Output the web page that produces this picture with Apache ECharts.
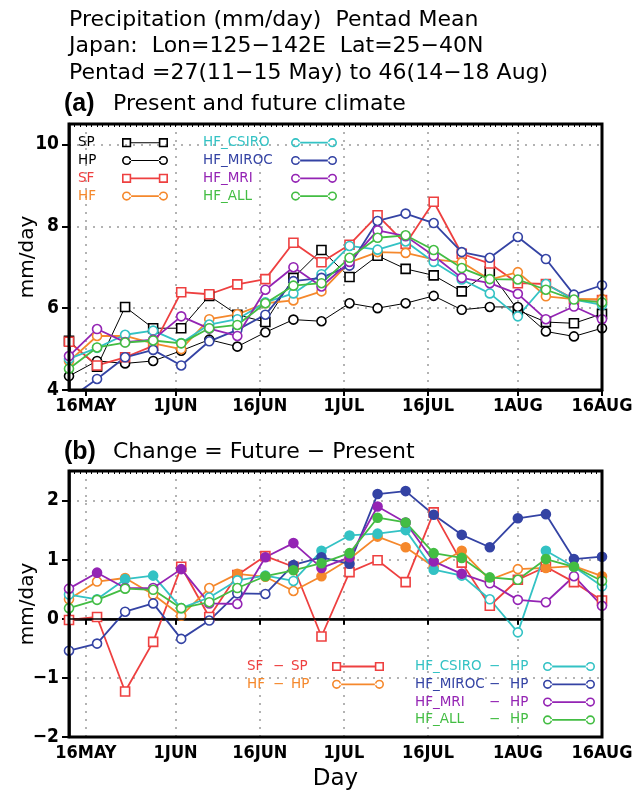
<!DOCTYPE html>
<html><head><meta charset="utf-8">
<script src="https://cdn.jsdelivr.net/npm/echarts@6/dist/echarts.min.js"></script>
<style>html,body{margin:0;padding:0;background:#fff}#c{width:635px;height:796px}</style>
</head><body><div id="c"></div>
<script>
// ---------------- data ----------------
const pentads = [27,28,29,30,31,32,33,34,35,36,37,38,39,40,41,42,43,44,45,46];
const tickDays = [136,152,167,182,197,213,228];           // day of year
const tickLabels = ['16MAY','1JUN','16JUN','1JUL','16JUL','1AUG','16AUG'];

// (a) present and future climate (mm/day)
const SP    = [5.20,4.57,6.03,5.51,5.51,6.30,5.84,5.66,6.74,7.42,6.76,7.28,6.96,6.80,6.41,6.90,5.95,5.66,5.63,5.86];
const HP    = [4.34,4.71,4.65,4.71,4.96,5.23,5.06,5.41,5.72,5.68,6.12,6.00,6.12,6.30,5.96,6.03,6.03,5.43,5.31,5.51];
const SF    = [5.18,4.60,4.80,5.08,6.39,6.34,6.58,6.71,7.60,7.12,7.55,8.27,7.57,8.60,7.33,7.09,6.61,6.59,6.22,6.20];
const HF    = [4.70,5.32,5.32,5.14,5.00,5.73,5.85,6.12,6.19,6.41,7.12,7.37,7.35,7.19,7.12,6.70,6.88,6.29,6.22,6.22];
const CSIRO = [4.76,5.03,5.35,5.45,5.15,5.60,5.73,6.14,6.36,6.83,7.52,7.43,7.63,7.13,6.70,6.36,5.80,6.59,6.21,6.08];
const MIROC = [3.78,4.27,4.80,4.98,4.60,5.19,5.47,5.84,6.66,6.74,7.04,8.13,8.31,8.08,7.37,7.23,7.74,7.20,6.33,6.56];
const MRI   = [4.83,5.49,5.17,5.23,5.80,5.50,5.32,6.45,7.00,6.53,7.13,7.90,7.76,7.28,6.74,6.61,6.35,5.73,6.04,5.73];
const ALL   = [4.52,5.04,5.16,5.21,5.14,5.51,5.59,6.12,6.55,6.61,7.23,7.72,7.78,7.42,6.98,6.71,6.70,6.45,6.21,6.14];

// (b) change = future - present (mm/day)
const dSF    = [-0.02,0.03,-1.23,-0.39,0.88,0.03,0.74,1.06,0.88,-0.30,0.79,0.99,0.62,1.80,0.95,0.22,0.66,0.88,0.62,0.31];
const dHF    = [0.33,0.63,0.69,0.41,0.05,0.52,0.76,0.71,0.47,0.72,1.01,1.39,1.21,0.88,1.15,0.66,0.84,0.86,0.89,0.72];
const dCSIRO = [0.41,0.33,0.67,0.73,0.18,0.36,0.65,0.73,0.64,1.15,1.41,1.44,1.50,0.83,0.73,0.33,-0.23,1.15,0.88,0.55];
const dMIROC = [-0.54,-0.42,0.12,0.26,-0.34,-0.03,0.43,0.42,0.91,1.04,0.93,2.11,2.16,1.76,1.42,1.21,1.70,1.77,1.01,1.05];
const dMRI   = [0.51,0.78,0.52,0.52,0.84,0.26,0.25,1.04,1.28,0.86,1.04,1.90,1.63,0.97,0.76,0.60,0.32,0.28,0.72,0.22];
const dALL   = [0.18,0.32,0.51,0.49,0.18,0.28,0.52,0.72,0.82,0.94,1.11,1.71,1.63,1.11,1.03,0.70,0.66,1.01,0.88,0.64];

// significance flags (1 = significant, drawn filled)
const sSF    = [0,0,0,0,0,0,0,0,0,0,0,0,0,0,0,0,0,0,0,0];
const sHF    = [0,0,1,0,0,0,1,0,0,1,1,1,1,0,1,0,0,1,1,1];
const sCSIRO = [0,0,1,1,0,0,0,0,0,1,1,1,1,1,0,0,0,1,1,0];
const sMIROC = [0,0,0,0,0,0,0,0,1,1,1,1,1,1,1,1,1,1,1,1];
const sMRI   = [0,1,0,0,1,0,0,1,1,1,1,1,1,1,1,0,0,0,0,0];
const sALL   = [0,0,0,0,0,0,0,1,1,1,1,1,1,1,1,1,0,1,1,0];

// ---------------- styling ----------------
const C = {black:'#000000', red:'#ee4040', orange:'#f5882c', cyan:'#33c2c4',
           blue:'#3443a4', purple:'#9424b4', green:'#43bd43'};
const days = pentads.map(p => (p - 1) * 5 + 3);   // pentad centre, day of year
const FONT = "'DejaVu Sans', sans-serif";
const NARROW = "'Liberation Sans Narrow', 'DejaVu Sans Condensed', sans-serif";

function pts(vals, sig, color) {
  return vals.map((v, i) => (sig && sig[i]) ? {value: [days[i], v], itemStyle: {color: color}} : [days[i], v]);
}
function mk(name, vals, color, symbol, lw, g, sig) {
  return {
    name: name, type: 'line', xAxisIndex: g, yAxisIndex: g,
    data: pts(vals, sig, color),
    symbol: symbol, symbolSize: 9,
    showSymbol: true, showAllSymbol: true,
    lineStyle: {color: color, width: lw},
    itemStyle: {color: '#ffffff', borderColor: color, borderWidth: 1.6},
    emphasis: {disabled: true}, silent: true, animation: false, clip: true, z: 3
  };
}
function ringCircle(cx, cy, r1, r2) {
  return `M${cx-r1},${cy} A${r1},${r1} 0 1 0 ${cx+r1},${cy} A${r1},${r1} 0 1 0 ${cx-r1},${cy} Z ` +
         `M${cx-r2},${cy} A${r2},${r2} 0 1 1 ${cx+r2},${cy} A${r2},${r2} 0 1 1 ${cx-r2},${cy} Z `;
}
function ringSquare(cx, cy, h1, h2) {
  return `M${cx-h1},${cy-h1} L${cx+h1},${cy-h1} L${cx+h1},${cy+h1} L${cx-h1},${cy+h1} Z ` +
         `M${cx-h2},${cy-h2} L${cx-h2},${cy+h2} L${cx+h2},${cy+h2} L${cx+h2},${cy-h2} Z `;
}
function icon(shape, t, W) {
  const r1 = 4.6, r2 = 3.0, cy = 5;
  const a = r1, b = W - r1;
  const ring = shape === 'rect' ? ringSquare : ringCircle;
  const line = `M${a + r2},${cy - t} L${b - r2},${cy - t} L${b - r2},${cy + t} L${a + r2},${cy + t} Z`;
  return 'path://' + ring(a, cy, r1, r2) + ring(b, cy, r1, r2) + line;
}
function legItem(name, color, shape, t, W) {
  return {name: name, icon: icon(shape, t, W), itemStyle: {color: color, borderWidth: 0},
          textStyle: {color: color}};
}
function legend(items, left, top, W, rich, fmt) {
  return {
    orient: 'vertical', left: left, top: top, padding: 0, align: 'right',
    itemWidth: W, itemHeight: 10, itemGap: 3.8, selectedMode: false,
    data: items, formatter: fmt,
    textStyle: {fontFamily: FONT, fontSize: 13.5, rich: rich}
  };
}
const tok = w => ({width: w, align: 'left', fontFamily: FONT, fontSize: 13.5});

// ---------------- axes ----------------
const grids = [
  {left: 69, top: 124, width: 533, height: 266, show: true, borderColor: '#000', borderWidth: 3,
   outerBoundsMode: 'none', containLabel: false, z: 10},
  {left: 69, top: 471, width: 533, height: 266, show: true, borderColor: '#000', borderWidth: 3,
   outerBoundsMode: 'none', containLabel: false, z: 10}
];
function xMain(g) {
  return {
    type: 'value', gridIndex: g, min: days[0], max: days[days.length - 1],
    name: g === 1 ? 'Day' : '', nameLocation: 'middle', nameGap: 31, nameMoveOverlap: false,
    nameTextStyle: {fontFamily: FONT, fontSize: 23, color: '#000'},
    axisLine: {show: true, lineStyle: {color: '#000', width: 2.5}},
    axisTick: {show: true, customValues: tickDays, length: 6, lineStyle: {color: '#000', width: 2}},
    axisLabel: {show: true, customValues: tickDays, margin: 7, color: '#000',
      fontFamily: NARROW, fontWeight: 'bold', fontSize: 18, hideOverlap: false,
      formatter: v => tickLabels[tickDays.indexOf(v)] || ''},
    splitLine: {show: true, lineStyle: {color: '#9a9a9a', width: 1.5, type: [2, 6]}},
    z: 2
  };
}
function xMinor(g) {
  return {
    type: 'value', gridIndex: g, min: days[0], max: days[days.length - 1], interval: 1,
    axisLine: {show: false}, axisLabel: {show: false}, splitLine: {show: false},
    axisTick: {show: true, inside: true, length: 3, lineStyle: {color: '#000', width: 1}}, z: 2
  };
}
function yAxis(g) {
  return {
    type: 'value', gridIndex: g,
    min: g === 0 ? 4 : -2, max: g === 0 ? 10.5 : 2.5, interval: g === 0 ? 2 : 1,
    name: 'mm/day', nameLocation: 'middle', nameRotate: 90, nameGap: 31, nameMoveOverlap: false,
    nameTextStyle: {fontFamily: FONT, fontSize: 20, color: '#000'},
    axisLine: {show: true, lineStyle: {color: '#000', width: 2.5}},
    axisTick: {show: true, length: 7, lineStyle: {color: '#000', width: 2}},
    axisLabel: {margin: 10, color: '#000', fontFamily: NARROW, fontWeight: 'bold', fontSize: 19,
      showMaxLabel: false,
      formatter: v => (v < 0 ? '\u2212' + Math.abs(v) : String(v))},
    splitLine: {show: true, lineStyle: {color: '#9a9a9a', width: 1.5, type: [2, 6]}},
    z: 2
  };
}

// ---------------- series ----------------
const series = [
  mk('SP', SP, C.black, 'rect', 1, 0),
  mk('HP', HP, C.black, 'circle', 1, 0),
  mk('SF', SF, C.red, 'rect', 1.8, 0),
  mk('HF', HF, C.orange, 'circle', 1.8, 0),
  mk('HF_CSIRO', CSIRO, C.cyan, 'circle', 1.8, 0),
  mk('HF_MIROC', MIROC, C.blue, 'circle', 1.8, 0),
  mk('HF_MRI', MRI, C.purple, 'circle', 1.8, 0),
  mk('HF_ALL', ALL, C.green, 'circle', 1.8, 0),
  mk('SF \u2212 SP', dSF, C.red, 'rect', 1.8, 1, sSF),
  mk('HF \u2212 HP', dHF, C.orange, 'circle', 1.8, 1, sHF),
  mk('HF_CSIRO \u2212 HP', dCSIRO, C.cyan, 'circle', 1.8, 1, sCSIRO),
  mk('HF_MIROC \u2212 HP', dMIROC, C.blue, 'circle', 1.8, 1, sMIROC),
  mk('HF_MRI \u2212 HP', dMRI, C.purple, 'circle', 1.8, 1, sMRI),
  mk('HF_ALL \u2212 HP', dALL, C.green, 'circle', 1.8, 1, sALL)
];
series[8].markLine = {silent: true, symbol: 'none', animation: false,
  label: {show: false}, lineStyle: {color: '#000', width: 1.6, type: 'solid'},
  data: [{yAxis: 0}]};

const splitFmt = name => {
  const p = name.split(' \u2212 ');
  return `{n|${p[0]}}{d|\u2212}{h|${p[1]}}`;
};

// title lines: [text, left, top, kind]
const titleParts = [
  ['Precipitation (mm/day)  Pentad Mean', 69, 7, 't'],
  ['Japan:  Lon=125\u2212142E  Lat=25\u221240N', 69, 33.5, 't'],
  ['Pentad =27(11\u221215 May) to 46(14\u221218 Aug)', 69, 60, 't'],
  ['(a)', 64, 91, 'b'], ['Present and future climate', 113, 91, 't'],
  ['(b)', 64, 439, 'b'], ['Change = Future \u2212 Present', 113, 439, 't']
];
const titles = titleParts.map(([text, left, top, kind]) => ({
  text: text, left: left, top: top, padding: 0,
  textStyle: kind === 'b'
    ? {fontFamily: "'Liberation Sans', sans-serif", fontWeight: 'bold', fontSize: 25, color: '#000', lineHeight: 26.5}
    : {fontFamily: FONT, fontWeight: 'normal', fontSize: 22, color: '#000', lineHeight: 26.5}
}));

const option = {
  backgroundColor: '#fff',
  animation: false,
  title: titles,
  legend: [
    legend([legItem('SP', C.black, 'rect', 0.5, 46), legItem('HP', C.black, 'circle', 0.5, 46),
            legItem('SF', C.red, 'rect', 0.9, 46), legItem('HF', C.orange, 'circle', 0.9, 46)],
           78, 135.7, 46, {n: tok(39)}, n => `{n|${n}}`),
    legend([legItem('HF_CSIRO', C.cyan, 'circle', 0.9, 46), legItem('HF_MIROC', C.blue, 'circle', 0.9, 46),
            legItem('HF_MRI', C.purple, 'circle', 0.9, 46), legItem('HF_ALL', C.green, 'circle', 0.9, 46)],
           203, 135.7, 46, {n: tok(83)}, n => `{n|${n}}`),
    legend([legItem('SF \u2212 SP', C.red, 'rect', 0.9, 52), legItem('HF \u2212 HP', C.orange, 'circle', 0.9, 52)],
           247, 659.5, 52, {n: tok(26), d: tok(18), h: tok(36)}, splitFmt),
    legend([legItem('HF_CSIRO \u2212 HP', C.cyan, 'circle', 0.9, 52), legItem('HF_MIROC \u2212 HP', C.blue, 'circle', 0.9, 52),
            legItem('HF_MRI \u2212 HP', C.purple, 'circle', 0.9, 52), legItem('HF_ALL \u2212 HP', C.green, 'circle', 0.9, 52)],
           415, 659.5, 52, {n: tok(74), d: tok(21), h: tok(28)}, splitFmt)
  ],
  grid: grids,
  xAxis: [xMain(0), xMain(1), xMinor(0), xMinor(1)],
  yAxis: [yAxis(0), yAxis(1)],
  series: series
};
const chart = echarts.init(document.getElementById('c'));
chart.setOption(option);
</script></body></html>
